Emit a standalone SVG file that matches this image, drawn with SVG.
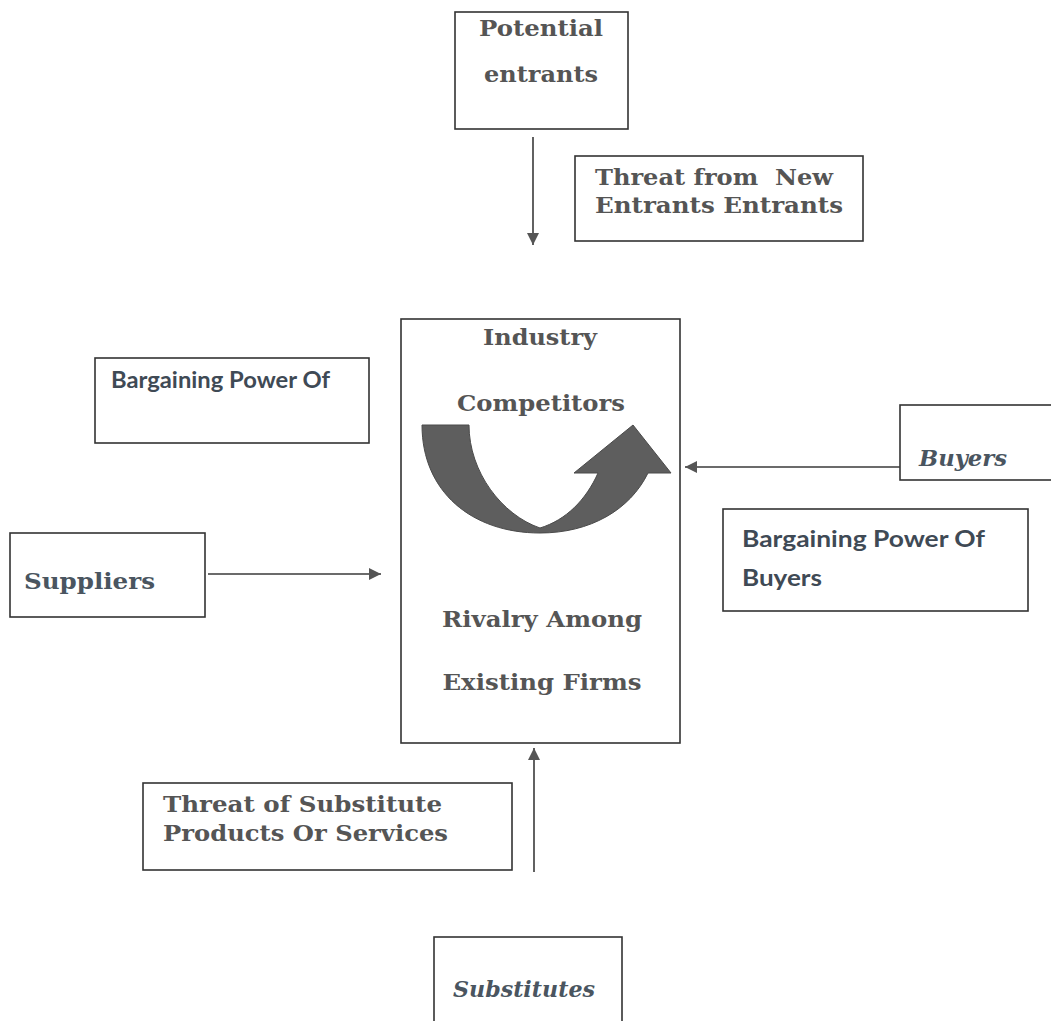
<svg xmlns="http://www.w3.org/2000/svg" width="1051" height="1021" viewBox="0 0 1051 1021">
<style>
.box{fill:none;stroke:#333;stroke-width:1.6}
.bk{font-family:"DejaVu Serif","Liberation Serif",serif;font-weight:bold;fill:#555;font-size:23px}
.cal{font-family:Lato,"Open Sans",sans-serif;font-weight:bold;fill:#3f4a55;font-size:22px}
.cam{font-family:"DejaVu Serif","Liberation Serif",serif;font-weight:bold;fill:#4a5560;font-size:23px}
.it{font-style:italic}
.conn{stroke:#3a3a3a;stroke-width:1.6;fill:none}
</style>
<defs>
<marker id="ah" viewBox="0 0 10 10" refX="10" refY="5" markerWidth="12" markerHeight="12" markerUnits="userSpaceOnUse" orient="auto">
<path d="M0,0 L10,5 L0,10 Z" fill="#555"/>
</marker>
</defs>
<rect width="1051" height="1021" fill="#fff"/>

<g id="potential-entrants">
<rect class="box" x="455" y="12" width="173" height="117"/>
<text class="bk" x="541" y="36" text-anchor="middle" textLength="124" lengthAdjust="spacingAndGlyphs">Potential</text>
<text class="bk" x="541" y="82" text-anchor="middle" textLength="114" lengthAdjust="spacingAndGlyphs">entrants</text>
</g>

<g id="threat-new">
<rect class="box" x="575" y="156" width="288" height="85"/>
<text class="bk" x="595" y="185" textLength="238" lengthAdjust="spacingAndGlyphs" xml:space="preserve">Threat from  New</text>
<text class="bk" x="595" y="213" textLength="248" lengthAdjust="spacingAndGlyphs">Entrants Entrants</text>
</g>

<g id="industry">
<rect class="box" x="401" y="319" width="279" height="424"/>
<text class="bk" x="540" y="345" text-anchor="middle" textLength="114" lengthAdjust="spacingAndGlyphs">Industry</text>
<text class="bk" x="541" y="411" text-anchor="middle" textLength="168" lengthAdjust="spacingAndGlyphs">Competitors</text>
<path d="M422,425 L469,425 C469,472 502,515 540,528 C566,520 586,500 598,473 L574,473 L633,425 L671,473 L648,473 C630,510 590,533 540,533 C472,533 422,492 422,425 Z" fill="#5e5e5e" stroke="#4a4a4a" stroke-width="1"/>
<text class="bk" x="542" y="627" text-anchor="middle" textLength="200" lengthAdjust="spacingAndGlyphs">Rivalry Among</text>
<text class="bk" x="542" y="690" text-anchor="middle" textLength="199" lengthAdjust="spacingAndGlyphs">Existing Firms</text>
</g>

<g id="bp-suppliers-label">
<rect class="box" x="95" y="358" width="274" height="85"/>
<text class="cal" x="111" y="388" textLength="219" lengthAdjust="spacingAndGlyphs">Bargaining Power Of</text>
</g>

<g id="suppliers">
<rect class="box" x="10" y="533" width="195" height="84"/>
<text class="cam" x="24" y="589" textLength="131" lengthAdjust="spacingAndGlyphs">Suppliers</text>
</g>

<g id="buyers">
<rect class="box" x="900" y="405" width="152" height="75"/>
<text class="cam it" x="919" y="466" textLength="88" lengthAdjust="spacingAndGlyphs">Buyers</text>
</g>

<g id="bp-buyers-label">
<rect class="box" x="723" y="509" width="305" height="102"/>
<text class="cal" x="742" y="547" textLength="243" lengthAdjust="spacingAndGlyphs">Bargaining Power Of</text>
<text class="cal" x="742" y="586" textLength="80" lengthAdjust="spacingAndGlyphs">Buyers</text>
</g>

<g id="threat-substitute">
<rect class="box" x="143" y="783" width="369" height="87"/>
<text class="bk" x="163" y="812" textLength="279" lengthAdjust="spacingAndGlyphs">Threat of Substitute</text>
<text class="bk" x="163" y="841" textLength="285" lengthAdjust="spacingAndGlyphs">Products Or Services</text>
</g>

<g id="substitutes">
<rect class="box" x="434" y="937" width="188" height="100"/>
<text class="cam it" x="453" y="997" font-size="26" textLength="142" lengthAdjust="spacingAndGlyphs">Substitutes</text>
</g>

<g id="connectors">
<line class="conn" x1="533" y1="137" x2="533" y2="245" marker-end="url(#ah)"/>
<line class="conn" x1="208" y1="574" x2="381" y2="574" marker-end="url(#ah)"/>
<line class="conn" x1="900" y1="467" x2="685" y2="467" marker-end="url(#ah)"/>
<line class="conn" x1="534" y1="872" x2="534" y2="748" marker-end="url(#ah)"/>
</g>
</svg>
